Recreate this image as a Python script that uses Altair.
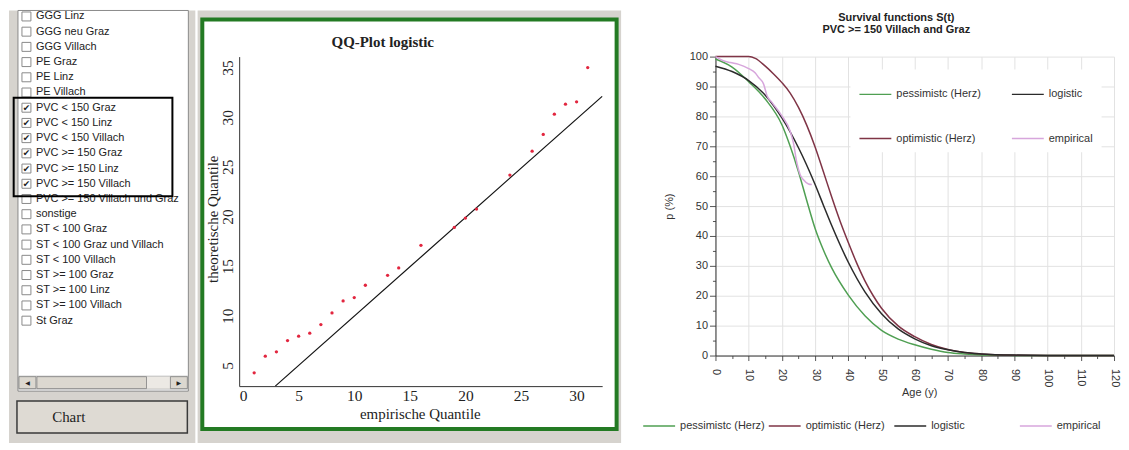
import altair as alt
import pandas as pd

# ---------------- left panel: selection list ----------------
list_items = ["GGG Linz", "GGG neu Graz", "GGG Villach", "PE Graz", "PE Linz", "PE Villach",
              "PVC < 150 Graz", "PVC < 150 Linz", "PVC < 150 Villach",
              "PVC >= 150 Graz", "PVC >= 150 Linz", "PVC >= 150 Villach",
              "PVC >= 150 Villach und Graz", "sonstige",
              "ST < 100 Graz", "ST < 100 Graz und Villach", "ST < 100 Villach",
              "ST >= 100 Graz", "ST >= 100 Linz", "ST >= 100 Villach", "St Graz"]
checked_items = ["PVC < 150 Graz", "PVC < 150 Linz", "PVC < 150 Villach",
                 "PVC >= 150 Graz", "PVC >= 150 Linz", "PVC >= 150 Villach"]
button_label = "Chart"

# ---------------- QQ plot ----------------
qq_title = "QQ-Plot  logistic"
qq_x_title = "empirische Quantile"
qq_y_title = "theoretische Quantile"
qq_emp = [1, 2, 3, 4, 5, 6, 7, 8, 9, 10, 11, 13, 14, 16, 19, 20, 21, 24, 26, 27, 28, 29, 30, 31]
qq_theo = [4.26, 5.94, 6.37, 7.51, 7.95, 8.25, 9.12, 10.29, 11.5, 11.84, 13.08, 14.08, 14.82,
           17.1, 18.9, 19.84, 20.75, 24.17, 26.58, 28.26, 30.3, 31.31, 31.55, 35.0]
qq_line_x = [2.9, 32.3]
qq_line_y = [2.92, 32.1]
qq_x_range = [-0.35, 32.3]
qq_y_range = [2.92, 36.1]
qq_xticks = [0, 5, 10, 15, 20, 25, 30]
qq_yticks = [5, 10, 15, 20, 25, 30, 35]

# ---------------- survival functions ----------------
surv_title = ["Survival functions S(t)", "PVC >= 150 Villach and Graz"]
surv_x_title = "Age (y)"
surv_y_title = "p (%)"
series_names = ["pessimistc (Herz)", "optimistic (Herz)", "logistic", "empirical"]
inner_order = ["pessimistc (Herz)", "logistic", "optimistic (Herz)", "empirical"]
series_colors = ["#4f9f52", "#7f3446", "#2b2b2b", "#d7a6dc"]

age_pess = [0, 5, 10, 15, 20, 22.5, 25, 27.5, 30, 32.5, 35, 40, 45, 50, 55, 60, 65, 70, 75, 80, 90, 100, 120]
val_pess = [99.2, 96.5, 91.6, 85.8, 77.2, 70.0, 61.5, 51.8, 42.5, 35.3, 29.3, 20.2, 13.3, 8.4, 5.5, 3.6,
            2.1, 1.0, 0.5, 0.2, 0.05, 0.0, 0.0]
age_opt = [0, 5, 10, 12, 15, 17.5, 20, 22.5, 25, 27.5, 30, 32.5, 35, 37.5, 40, 42.5, 45, 47.5, 50, 55, 60,
           65, 70, 75, 80, 90, 100, 120]
val_opt = [100, 100, 100, 99.4, 96.8, 94.2, 91.3, 87.8, 83.0, 77.0, 69.8, 61.5, 53.0, 45.0, 37.8, 31.0,
           25.0, 20.0, 15.8, 9.9, 6.3, 3.7, 2.0, 1.05, 0.55, 0.12, 0.02, 0.0]
age_log = [0, 5, 10, 15, 20, 25, 30, 32.5, 35, 40, 45, 50, 55, 60, 65, 70, 75, 80, 90, 100, 120]
val_log = [96.8, 95.0, 92.0, 87.1, 79.5, 69.5, 57.2, 50.3, 43.5, 31.2, 21.3, 14.0, 8.9, 5.6, 3.3, 1.9,
           1.0, 0.55, 0.15, 0.03, 0.0]
age_emp = [0, 2, 4.5, 7, 10, 12, 13, 14.5, 15.5, 17, 20, 22.5, 23.5, 24.5, 25.5, 26.5, 28, 29]
val_emp = [100, 98.8, 98.0, 97.4, 96.0, 94.5, 93.0, 90.8, 87.0, 84.7, 80.2, 75.0, 71.0, 64.5, 60.5,
           58.8, 57.4, 57.2]
surv_xticks = list(range(0, 121, 5))
surv_yticks = list(range(0, 101, 5))

# =====================================================================
# all three panels share the same plot-origin row (the survival plot top);
# UI decorations above that origin are drawn at negative pixel offsets.
TOP = -46.3          # page top (y=8) relative to the common origin
GRAY = "#d6d3ce"
dummy = alt.Data(values=[{}])


def deco_rect(x, x2, y, y2, **kw):
    return alt.Chart(dummy).mark_rect(**kw).encode(
        x=alt.value(x), x2=alt.value(x2), y=alt.value(y), y2=alt.value(y2))


def deco_text(txt, x, y, **kw):
    return alt.Chart(dummy).mark_text(text=txt, **kw).encode(x=alt.value(x), y=alt.value(y))


# ---------------- left panel ----------------
left_df = pd.DataFrame({"item": list_items,
                        "idx": list(range(len(list_items))),
                        "checked": [it in checked_items for it in list_items]})
chk_idx = [list_items.index(c) for c in checked_items]
sel_df = pd.DataFrame({"i0": [min(chk_idx)], "i1": [max(chk_idx)]})

LH = 387.7
ys_list = alt.Scale(domain=[0, len(list_items) - 1], range=[-40.3, 265], nice=False, zero=False)
Ylist = alt.Y("idx:Q", scale=ys_list, axis=None)

left_bg = deco_rect(0, 187, TOP, LH, fill=GRAY)
listbox = deco_rect(9, 180, TOP, 335.7, fill="white", stroke="#8a8a8a", strokeWidth=1)
scroll_track = deco_rect(9.5, 179.5, 320.7, 333.7, fill="#ece9e4", stroke="#b0b0b0", strokeWidth=0.8)
scroll_lbtn = deco_rect(10, 27, 321.2, 333.2, fill="#dcd8d0", stroke="#808080", strokeWidth=0.8)
scroll_thumb = deco_rect(28, 138, 321.2, 333.2, fill="#dcd8d0", stroke="#808080", strokeWidth=0.8)
scroll_rbtn = deco_rect(162, 179, 321.2, 333.2, fill="#dcd8d0", stroke="#808080", strokeWidth=0.8)
arrow_l = deco_text("◀", 18.5, 327.2, fontSize=6, color="#222", font="DejaVu Sans")
arrow_r = deco_text("▶", 170.5, 327.2, fontSize=6, color="#222", font="DejaVu Sans")
button = deco_rect(8, 179, 345.7, 377.7, fill="#dedad3", stroke="#3a3a3a", strokeWidth=1.5)
button_txt = deco_text(button_label, 60, 361.7, font="Liberation Serif", fontSize=15, color="#222",
                       baseline="middle")

boxes = alt.Chart(left_df).mark_square(size=81, fill="white", stroke="#8a8a8a", strokeWidth=1,
                                       opacity=1).encode(x=alt.value(17.5), y=Ylist)
checks = alt.Chart(left_df).transform_filter("datum.checked").mark_text(
    text="✔", fontSize=9, color="#222", font="DejaVu Sans", baseline="middle").encode(
    x=alt.value(17.5), y=Ylist)
labels = alt.Chart(left_df).mark_text(align="left", baseline="middle", font="Liberation Sans",
                                      fontSize=11, color="#222").encode(
    x=alt.value(27), y=Ylist, text="item:N")
sel_rect = alt.Chart(sel_df).mark_rect(yOffset=-10, y2Offset=12.5, fillOpacity=0, stroke="black",
                                       strokeWidth=2).encode(
    x=alt.value(4.7), x2=alt.value(164), y=alt.Y("i0:Q", scale=ys_list, axis=None), y2="i1:Q")

left = alt.layer(left_bg, listbox, scroll_track, scroll_lbtn, scroll_thumb, scroll_rbtn, arrow_l,
                 arrow_r, boxes, checks, labels, sel_rect, button, button_txt).properties(
    width=187, height=LH)

# ---------------- QQ panel ----------------
QW, QH = 364.3, 330.7
qxs = alt.Scale(domain=qq_x_range, nice=False, zero=False)
qys = alt.Scale(domain=qq_y_range, nice=False, zero=False)
serif = "Liberation Serif"
qx_axis = alt.Axis(values=qq_xticks, zindex=1, domainColor="#333", ticks=False, grid=False,
                   labelFont=serif, labelFontSize=15.5, labelColor="#222", labelPadding=2,
                   labelFlush=False, title=qq_x_title, titleFont=serif, titleFontSize=15,
                   titleFontWeight="normal", titleColor="#222", titleX=181.3, titleY=27,
                   titleBaseline="middle", titleAlign="center")
qy_axis = alt.Axis(values=qq_yticks, zindex=1, domainColor="#333", ticks=False, grid=False,
                   labelFont=serif, labelFontSize=15.5, labelColor="#222", labelPadding=4,
                   labelFlush=False, labelAngle=-90, labelAlign="center", labelBaseline="bottom",
                   title=qq_y_title, titleFont=serif, titleFontSize=15, titleFontWeight="normal",
                   titleColor="#222", titleX=-26.5, titleY=162.7, titleAngle=-90,
                   titleBaseline="middle", titleAlign="center")

qq_pts_df = pd.DataFrame({"x": qq_emp, "y": qq_theo})
qq_line_df = pd.DataFrame({"x": qq_line_x, "y": qq_line_y})

qq_bg = deco_rect(-41.7, 383.3, TOP, 387.7, fill=GRAY)
green_box = deco_rect(-37, 378.8, -37.3, 373.7, fill="white", stroke="#237a23", strokeWidth=4)
qq_title_mark = deco_text(qq_title, 144.1, -14.3, font=serif, fontSize=15, fontWeight="bold",
                          color="#222", baseline="middle")
QX = alt.X("x:Q", scale=qxs, axis=qx_axis)
QY = alt.Y("y:Q", scale=qys, axis=qy_axis)
ref_line = alt.Chart(qq_line_df).mark_line(color="#111", strokeWidth=1.2).encode(x=QX, y=QY)
qq_points = alt.Chart(qq_pts_df).mark_point(filled=True, shape="circle", size=11, color="#e2263f",
                                            opacity=1).encode(x=QX, y=QY)

qq = alt.layer(qq_bg, green_box, ref_line, qq_points, qq_title_mark).properties(width=QW, height=QH)

# ---------------- survival panel ----------------
SW, SH = 400, 300
rows = []
for name, ages, vals in [(series_names[0], age_pess, val_pess), (series_names[1], age_opt, val_opt),
                         (series_names[2], age_log, val_log), (series_names[3], age_emp, val_emp)]:
    for a, v in zip(ages, vals):
        rows.append({"series": name, "age": a, "p": v})
surv_df = pd.DataFrame(rows)
color_of = dict(zip(series_names, series_colors))

major = "datum.value % 10 === 0"
sans = "Liberation Sans"
sx_axis = alt.Axis(values=surv_xticks, labelExpr="datum.value % 10 === 0 ? datum.label : ''",
                   labelAngle=90, labelFont=sans, labelFontSize=11, labelColor="#333", labelPadding=8,
                   grid=True, gridColor="#e2e2e2",
                   gridOpacity={"condition": {"test": major, "value": 1}, "value": 0},
                   tickColor="#555", tickSize={"condition": {"test": major, "value": 5}, "value": 3},
                   domainColor="#333", title=surv_x_title, titleFont=sans, titleFontSize=11,
                   titleFontWeight="normal", titleColor="#333", titleX=204.5, titleY=37.5,
                   titleBaseline="middle", titleAlign="center")
sy_axis = alt.Axis(values=surv_yticks, labelExpr="datum.value % 10 === 0 ? datum.label : ''",
                   labelFont=sans, labelFontSize=11, labelColor="#333", labelPadding=2,
                   grid=True, gridColor="#e2e2e2",
                   gridOpacity={"condition": {"test": major, "value": 1}, "value": 0},
                   tickColor="#555", tickSize={"condition": {"test": major, "value": 6}, "value": 3},
                   domainColor="#333", title=surv_y_title, titleFont=sans, titleFontSize=11,
                   titleFontWeight="normal", titleColor="#333", titleX=-46.5, titleY=150,
                   titleBaseline="middle", titleAlign="center", titleAngle=-90)

lines = alt.Chart(surv_df).mark_line(strokeWidth=1.5, interpolate="monotone").encode(
    x=alt.X("age:Q", scale=alt.Scale(domain=[0, 120], nice=False, zero=False), axis=sx_axis),
    y=alt.Y("p:Q", scale=alt.Scale(domain=[0, 100], nice=False), axis=sy_axis),
    color=alt.Color("series:N", sort=series_names,
                    scale=alt.Scale(domain=series_names, range=series_colors),
                    legend=alt.Legend(orient="none", legendX=-73.5, legendY=353.7, direction="horizontal",
                                      columns=4, gridAlign="all", columnPadding=1, title=None,
                                      symbolType="stroke", symbolSize=1024, symbolStrokeWidth=1.5,
                                      labelFont=sans, labelFontSize=11, labelColor="#333",
                                      labelOffset=4, padding=0)),
    detail="series:N")

legend_df = pd.DataFrame({"series": inner_order})
inner_leg = alt.Chart(legend_df).mark_rule(strokeWidth=1.5).encode(
    x=alt.value(0), x2=alt.value(0), y=alt.value(0), y2=alt.value(0),
    color=alt.Color("series:N", sort=inner_order,
                    scale=alt.Scale(domain=inner_order, range=[color_of[s] for s in inner_order]),
                    legend=alt.Legend(orient="none", legendX=135.5, legendY=12.9, direction="horizontal",
                                      columns=2, gridAlign="each", columnPadding=28, rowPadding=22.3,
                                      title=None, symbolType="stroke", symbolSize=1024,
                                      symbolStrokeWidth=1.5, labelFont=sans, labelFontSize=11,
                                      labelColor="#333", labelOffset=4, padding=8, fillColor="white")))

surv = alt.layer(lines, inner_leg).resolve_scale(color="independent").properties(
    width=SW, height=SH,
    title=alt.TitleParams(text=surv_title, font=sans, fontSize=11, fontWeight="bold", color="#222",
                          lineHeight=12, anchor="middle", frame="group", dx=-18.5, offset=15.3))

chart = alt.hconcat(alt.hconcat(left, qq, spacing=0), surv, spacing=20).properties(
    padding=0, background="white").configure(font=sans).configure_view(stroke="transparent")

chart.save("out.html", embed_options={"renderer": "svg", "actions": False})
